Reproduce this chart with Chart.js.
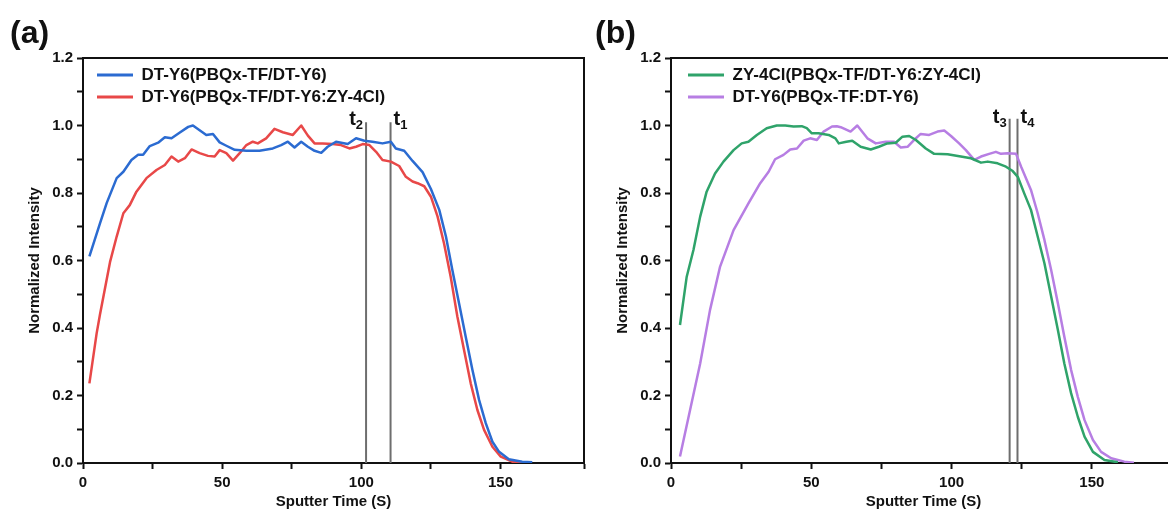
<!DOCTYPE html>
<html>
<head>
<meta charset="utf-8">
<script src="https://cdn.jsdelivr.net/npm/chart.js@4.4.1/dist/chart.umd.min.js"></script>
<style>
  html, body { margin: 0; padding: 0; background: #fff; overflow: hidden; }
  body { width: 1168px; height: 512px; position: relative; font-family: "Liberation Sans", Arial, sans-serif; }
  .panel { position: absolute; top: 0; width: 600px; height: 512px; }
  .tag { position: absolute; top: 16px; font-weight: bold; font-size: 32px; line-height: 32px; color: #111; z-index: 5; }
</style>
</head>
<body>
<div class="panel" style="left:0"><canvas id="chartA"></canvas></div>
<div class="panel" style="left:590px"><canvas id="chartB"></canvas></div>
<div class="tag" style="left:10px">(a)</div>
<div class="tag" style="left:595px">(b)</div>
<script>
// panel (a)
const labelsA = ["DT-Y6(PBQx-TF/DT-Y6)", "DT-Y6(PBQx-TF/DT-Y6:ZY-4Cl)"];
const timeA1 = [2.3, 6.1, 8.5, 12.1, 14.5, 17.4, 19.8, 21.6, 24, 27, 29.4, 31.8, 34.8, 37.8, 39.5, 41.9, 44.3, 46.7, 49.1, 51.5, 54.5, 58.7, 63.4, 68.2, 71.2, 73.6, 76, 78.4, 80.8, 83.2, 85.6, 87.9, 90.9, 95.1, 98.1, 101.1, 104, 107.6, 110.6, 112.4, 115.4, 118.4, 122, 125, 128, 130.4, 132.7, 135.1, 137.5, 139.9, 142.3, 144.7, 147.1, 149.5, 153, 157.8, 161.4];
const valA1 = [0.612, 0.71, 0.77, 0.844, 0.863, 0.898, 0.913, 0.913, 0.939, 0.949, 0.965, 0.962, 0.979, 0.996, 1.0, 0.986, 0.972, 0.975, 0.95, 0.94, 0.928, 0.925, 0.925, 0.932, 0.942, 0.952, 0.935, 0.952, 0.937, 0.925, 0.919, 0.937, 0.952, 0.945, 0.962, 0.955, 0.952, 0.947, 0.952, 0.932, 0.925, 0.895, 0.862, 0.812, 0.75, 0.671, 0.572, 0.473, 0.374, 0.276, 0.187, 0.118, 0.063, 0.033, 0.011, 0.004, 0.002];
const timeA2 = [2.3, 4.9, 6.1, 9.7, 12.1, 14.5, 16.8, 19.2, 22.8, 26.4, 29.4, 31.8, 34.2, 36.6, 39, 41.9, 44.9, 47.3, 49.1, 51.5, 53.9, 56.3, 58.7, 61, 62.8, 65.8, 68.8, 71.8, 75.4, 78.4, 80.8, 83.2, 86.1, 89.7, 92.7, 95.7, 98.1, 100.5, 102.9, 105.3, 107.6, 110.6, 113.6, 116, 118.4, 120.2, 122.6, 125, 127.4, 129.7, 132.1, 134.5, 136.9, 139.3, 141.7, 144.1, 147.1, 150.1, 154.2, 158];
const valA2 = [0.236, 0.384, 0.44, 0.595, 0.671, 0.74, 0.764, 0.804, 0.844, 0.868, 0.883, 0.908, 0.893, 0.903, 0.929, 0.918, 0.91, 0.908, 0.927, 0.918, 0.896, 0.918, 0.942, 0.952, 0.947, 0.962, 0.99, 0.98, 0.972, 1.0, 0.97, 0.947, 0.947, 0.945, 0.942, 0.932, 0.937, 0.945, 0.942, 0.922, 0.898, 0.893, 0.88, 0.848, 0.834, 0.829, 0.82, 0.789, 0.73, 0.651, 0.552, 0.434, 0.335, 0.236, 0.157, 0.098, 0.048, 0.019, 0.004, 0.001];
const markA = [101.7, 110.5];
const markSubA = ["2", "1"];
const markSideA = ["left", "right"];
const markTopA = 1.01;

// panel (b)
const labelsB = ["ZY-4Cl(PBQx-TF/DT-Y6:ZY-4Cl)", "DT-Y6(PBQx-TF:DT-Y6)"];
const timeB1 = [3.2, 5.6, 8, 10.4, 12.7, 15.7, 18.7, 22.3, 25.2, 27.6, 30.6, 34.1, 37.7, 40.7, 43.7, 46.6, 48.4, 50.2, 52.6, 56.2, 58.6, 59.8, 62.5, 64.6, 67.6, 71.2, 74.1, 77.1, 80.1, 82.5, 84.9, 87.3, 90.8, 93.8, 98.6, 103.3, 106.9, 110.5, 112.9, 116.4, 119.4, 121.8, 123.6, 125.9, 128.3, 130.7, 133.1, 135.5, 137.9, 140.2, 142.6, 145, 147.4, 150.4, 154.5, 159.3];
const valB1 = [0.409, 0.552, 0.631, 0.73, 0.804, 0.858, 0.893, 0.927, 0.947, 0.952, 0.972, 0.992, 1.0, 1.0, 0.997, 0.998, 0.992, 0.977, 0.977, 0.972, 0.962, 0.947, 0.952, 0.955, 0.937, 0.929, 0.937, 0.947, 0.949, 0.967, 0.969, 0.957, 0.932, 0.916, 0.915, 0.908, 0.903, 0.89, 0.893, 0.888, 0.878, 0.865, 0.848, 0.799, 0.75, 0.671, 0.592, 0.493, 0.394, 0.295, 0.207, 0.137, 0.078, 0.033, 0.009, 0.002];
const timeB2 = [3.2, 6.8, 10.4, 13.9, 17.5, 22.3, 27.6, 31.8, 34.8, 37.1, 40.1, 42.5, 44.9, 47.3, 49.6, 52, 54.4, 57.4, 59.1, 60.5, 64, 66.4, 70, 73, 76.5, 79.5, 81.9, 84.3, 86.6, 89, 92, 95, 97.4, 99.8, 102.7, 105.1, 108.1, 110.5, 113.4, 115.8, 117.6, 120, 123, 124.8, 128.3, 130.7, 133.1, 135.5, 137.9, 140.2, 142.6, 145, 147.4, 150.4, 153.3, 156.9, 161.6, 165];
const valB2 = [0.019, 0.157, 0.295, 0.453, 0.582, 0.69, 0.769, 0.829, 0.863, 0.9, 0.913, 0.929, 0.932, 0.955, 0.962, 0.957, 0.982, 0.997, 0.998, 0.995, 0.982, 1.0, 0.962, 0.947, 0.952, 0.952, 0.935, 0.937, 0.957, 0.975, 0.972, 0.982, 0.985, 0.969, 0.947, 0.927, 0.898, 0.908, 0.916, 0.922, 0.916, 0.918, 0.916, 0.878, 0.809, 0.74, 0.661, 0.572, 0.473, 0.374, 0.276, 0.196, 0.127, 0.068, 0.033, 0.014, 0.004, 0.001];
const markB = [120.7, 123.5];
const markSubB = ["3", "4"];
const markSideB = ["left", "right"];
const markTopB = 1.02;

const FONT = "'Liberation Sans', Arial, sans-serif";
const INK = "#111";

function pts(xs, ys) {
  return xs.map((x, i) => ({ x: x, y: ys[i] }));
}

// top + right frame lines
const frame = {
  id: "frame",
  afterDraw(chart) {
    const { ctx, chartArea: a } = chart;
    ctx.save();
    ctx.strokeStyle = INK;
    ctx.lineWidth = 2;
    ctx.beginPath();
    ctx.moveTo(a.left, a.top);
    ctx.lineTo(a.right, a.top);
    ctx.lineTo(a.right, a.bottom);
    ctx.stroke();
    ctx.restore();
  },
};

// put the legend inside the plot, top-left
// (a vertical legend gets its top reset to 0 during layout)
const legendShift = {
  id: "legendShift",
  afterLayout(chart, args, opts) {
    const lg = chart.legend;
    if (!lg) return;
    const h = lg.height;
    lg.left = chart.chartArea.left + (opts.dx || 0);
    lg.top = chart.chartArea.top + (opts.dy || 0);
    lg.bottom = lg.top + h;
  },
};

// t labels beside the marker lines
const markLabels = {
  id: "markLabels",
  afterDatasetsDraw(chart, args, opts) {
    const { ctx } = chart;
    const xs = chart.scales.x, ys = chart.scales.y;
    ctx.save();
    ctx.fillStyle = INK;
    ctx.textBaseline = "alphabetic";
    opts.marks.forEach((t, i) => {
      const px = xs.getPixelForValue(t);
      const py = ys.getPixelForValue(opts.top);
      ctx.font = "bold 20px " + FONT;
      const tw = ctx.measureText("t").width;
      ctx.font = "bold 13px " + FONT;
      const sw = ctx.measureText(opts.subs[i]).width;
      const x0 = opts.sides[i] === "left" ? px - 3 - tw - sw : px + 3;
      ctx.font = "bold 20px " + FONT;
      ctx.fillText("t", x0, py + opts.dy);
      ctx.font = "bold 13px " + FONT;
      ctx.fillText(opts.subs[i], x0 + tw, py + opts.dy + 4);
    });
    ctx.restore();
  },
};

function makeChart(id, cfg) {
  const datasets = [
    { label: cfg.labels[0], data: pts(cfg.t1, cfg.v1), borderColor: cfg.colors[0], backgroundColor: cfg.colors[0] },
    { label: cfg.labels[1], data: pts(cfg.t2, cfg.v2), borderColor: cfg.colors[1], backgroundColor: cfg.colors[1] },
  ];
  cfg.marks.forEach((t) => {
    datasets.push({ label: "", data: [{ x: t, y: 0 }, { x: t, y: cfg.markTop }], borderColor: "#6e6e6e", borderWidth: 2 });
  });
  datasets.forEach((d, i) => {
    d.pointRadius = 0;
    d.tension = 0;
    if (i < 2) d.borderWidth = 2.5;
    d.borderJoinStyle = "round";
  });

  return new Chart(document.getElementById(id), {
    type: "line",
    data: { datasets: datasets },
    options: {
      responsive: true,
      maintainAspectRatio: false,
      animation: false,
      devicePixelRatio: 1,
      layout: { padding: { left: 0, top: 58, right: cfg.padRight, bottom: 0 } },
      plugins: {
        tooltip: { enabled: false },
        legend: {
          position: "chartArea",
          align: "start",
          labels: {
            boxWidth: 36,
            boxHeight: 3,
            padding: 5,
            color: INK,
            font: { family: FONT, size: 17, weight: "bold" },
            filter: (item) => item.datasetIndex < 2,
            generateLabels: (chart) =>
              Chart.defaults.plugins.legend.labels.generateLabels(chart).map((l) => Object.assign(l, { lineWidth: 0 })),
          },
        },
        legendShift: { dx: cfg.legendDx, dy: 3.5 },
        markLabels: { marks: cfg.marks, subs: cfg.subs, sides: cfg.sides, top: cfg.markTop, dy: cfg.labelDy },
      },
      scales: {
        x: {
          type: "linear",
          min: 0,
          max: 180,
          ticks: {
            stepSize: 25,
            autoSkip: false,
            maxRotation: 0,
            padding: 5,
            color: INK,
            font: { family: FONT, size: 15, weight: "bold" },
            callback: (v) => (v % 50 === 0 ? v : ""),
          },
          grid: { drawOnChartArea: false, tickLength: 6, tickWidth: 2, tickColor: INK },
          border: { color: INK, width: 2 },
          title: {
            display: true,
            text: "Sputter Time (S)",
            color: INK,
            font: { family: FONT, size: 15, weight: "bold" },
            padding: { top: 0, bottom: 1 },
          },
          afterFit: (s) => { s.height = 49; },
        },
        y: {
          min: 0,
          max: 1.2,
          ticks: {
            stepSize: 0.1,
            padding: 4,
            color: INK,
            font: { family: FONT, size: 15, weight: "bold" },
            callback: (v) => (Math.round(v * 10) % 2 === 0 ? v.toFixed(1) : ""),
          },
          grid: { drawOnChartArea: false, tickLength: 6, tickWidth: 2, tickColor: INK },
          border: { color: INK, width: 2 },
          title: {
            display: true,
            text: "Normalized Intensity",
            color: INK,
            font: { family: FONT, size: 15, weight: "bold" },
            padding: { top: cfg.yTitlePad, bottom: 0 },
          },
          afterFit: (s) => { s.width = cfg.yWidth; },
        },
      },
    },
    plugins: [frame, legendShift, markLabels],
  });
}

makeChart("chartA", {
  labels: labelsA,
  t1: timeA1, v1: valA1, t2: timeA2, v2: valA2,
  colors: ["#2b6bd1", "#e84848"],
  marks: markA, subs: markSubA, sides: markSideA, markTop: markTopA, labelDy: 3,
  padRight: 16, yWidth: 83, yTitlePad: 26, legendDx: 9,
});

makeChart("chartB", {
  labels: labelsB,
  t1: timeB1, v1: valB1, t2: timeB2, v2: valB2,
  colors: ["#2fa36a", "#b77ee3"],
  marks: markB, subs: markSubB, sides: markSideB, markTop: markTopB, labelDy: 4,
  padRight: 14, yWidth: 81, yTitlePad: 24, legendDx: 12,
});
</script>
</body>
</html>
